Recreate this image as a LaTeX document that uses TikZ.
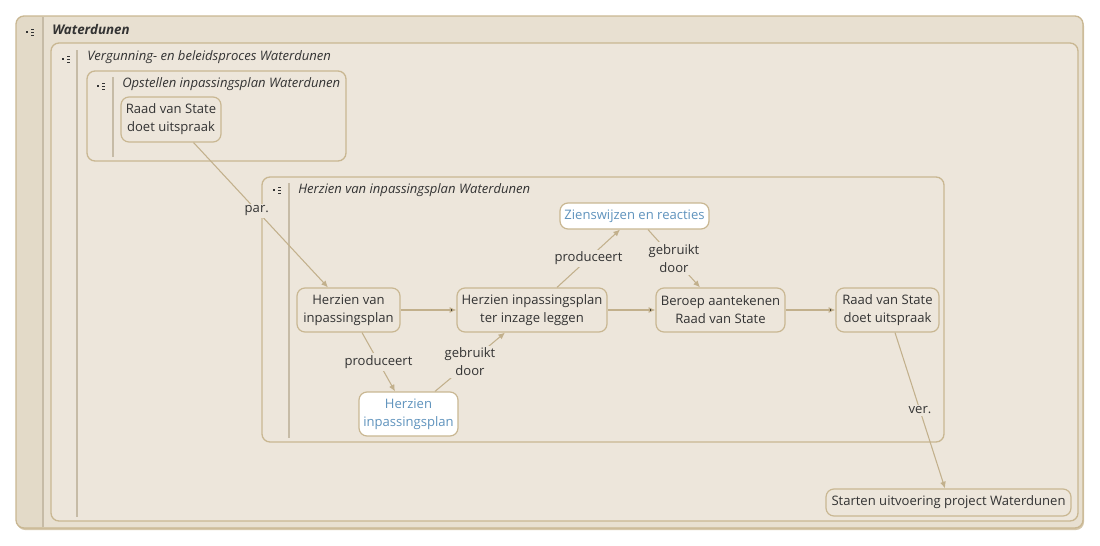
\documentclass[tikz,border=0pt]{standalone}
\usepackage{fontspec}
\setmainfont{Open Sans}
\usetikzlibrary{arrows.meta}
\definecolor{rand}{HTML}{C9B792}
\definecolor{lijn}{HTML}{C2B08C}
\definecolor{strook}{HTML}{E3DAC8}
\definecolor{buiten}{HTML}{E8E0D1}
\definecolor{vulling}{HTML}{EDE6DB}
\definecolor{scheiding}{HTML}{C6BBA6}
\definecolor{tekst}{HTML}{333333}
\definecolor{blauw}{HTML}{5F93BD}
\begin{document}
\begin{tikzpicture}[x=0.75pt,y=-0.75pt,
  kader/.style={draw=rand,line width=1pt,rounded corners=6pt,fill=vulling},
  deel/.style={draw=scheiding,line width=1pt},
  titel/.style={anchor=west,font=\fontsize{9.8}{12}\selectfont\itshape,text=tekst,inner sep=0pt},
  stap/.style={draw=rand,line width=0.9pt,rounded corners=6pt,fill=vulling,align=center,
    font=\fontsize{9.8}{13.5}\selectfont,text=tekst,inner sep=2pt},
  product/.style={stap,fill=white,text=blauw},
  pijl/.style={draw=lijn,line width=0.8pt,-{Latex[length=5pt,width=4.5pt]}},
  lbl/.style={fill=vulling,align=center,font=\fontsize{9.8}{13.5}\selectfont,text=tekst,inner sep=1.5pt}]
  \useasboundingbox (0,0) rectangle (1100,546);

  % kaders
  \fill[rand!60!buiten,rounded corners=6pt] (17,18) rectangle (1084,530);
  \begin{scope}
    \clip[rounded corners=6pt] (16,16) rectangle (1083,528);
    \fill[buiten] (16,16) rectangle (1083,528);
    \fill[strook] (16,16) rectangle (43,528);
  \end{scope}
  \draw[draw=rand,line width=1pt,rounded corners=6pt] (16,16) rectangle (1083,528);
  \draw[deel] (43,17) -- (43,527);
  \draw[kader] (51,43) rectangle (1078,521);
  \draw[deel] (77,50) -- (77,517);
  \draw[kader] (87,71) rectangle (346,161);
  \draw[deel] (113,77) -- (113,157);
  \draw[kader] (262,177) rectangle (944,442);
  \draw[deel] (289,183) -- (289,438);

  \foreach \x/\y in {29/32, 65/59, 100/86, 276/190} {
    \fill[tekst] (\x-3,\y-1) rectangle (\x-1,\y+1);
    \foreach \d in {-3,0,3} \draw[tekst,line width=0.6pt] (\x+2,\y+\d) -- (\x+5,\y+\d);
  }

  \node[titel,font=\fontsize{10}{12}\selectfont\bfseries\itshape] (t0) at (52,30) {Waterdunen};
  \node[titel] (t1) at (87,57) {Vergunning- en beleidsproces Waterdunen};
  \node[titel] (t2) at (122,84) {Opstellen inpassingsplan Waterdunen};
  \node[titel] (t3) at (298,190) {Herzien van inpassingsplan Waterdunen};

  % stappen
  \node[stap,minimum width=75pt,minimum height=33.75pt] (rvs1) at (171,119.5) {Raad van State\\doet uitspraak};
  \node[stap,minimum width=77.25pt,minimum height=33pt] (herzien) at (348.5,310) {Herzien van\\inpassingsplan};
  \node[stap,minimum width=112.5pt,minimum height=33pt] (inzage) at (532,310) {Herzien inpassingsplan\\ter inzage leggen};
  \node[stap,minimum width=96.75pt,minimum height=33pt] (beroep) at (720.5,310) {Beroep aantekenen\\Raad van State};
  \node[stap,minimum width=77.25pt,minimum height=33pt] (rvs2) at (887.5,310) {Raad van State\\doet uitspraak};
  \node[product,minimum width=111.75pt,minimum height=19.5pt] (zienswijzen) at (634.5,216) {Zienswijzen en reacties};
  \node[product,minimum width=74.25pt,minimum height=33pt] (plan) at (408.5,414) {Herzien\\inpassingsplan};
  \node[stap,minimum width=183.75pt,minimum height=20.25pt] (starten) at (948.5,502.5) {Starten uitvoering project Waterdunen};

  % verbindingen
  \draw[pijl] (rvs1.south east) ++(-28,0) coordinate (p1) -- node[lbl,pos=0.47] {par.} (herzien.north -| 328,0);
  \path[pijl] (herzien) edge (inzage);
  \path[pijl] (inzage) edge (beroep);
  \path[pijl] (beroep) edge (rvs2);
  \draw[pijl] (herzien.south -| 362,0) -- node[lbl] {produceert} (plan.north -| 395,0);
  \draw[pijl] (plan.north -| 435,0) -- node[lbl] {gebruikt\\door} (inzage.south -| 505,0);
  \draw[pijl] (inzage.north -| 557,0) -- node[lbl] {produceert} (zienswijzen.south -| 620,0);
  \draw[pijl] (zienswijzen.south -| 648,0) -- node[lbl] {gebruikt\\door} (beroep.north -| 700,0);
  \draw[pijl] (rvs2.south -| 895,0) -- node[lbl] {ver.} (starten.north -| 945,0);
\end{tikzpicture}
\end{document}
